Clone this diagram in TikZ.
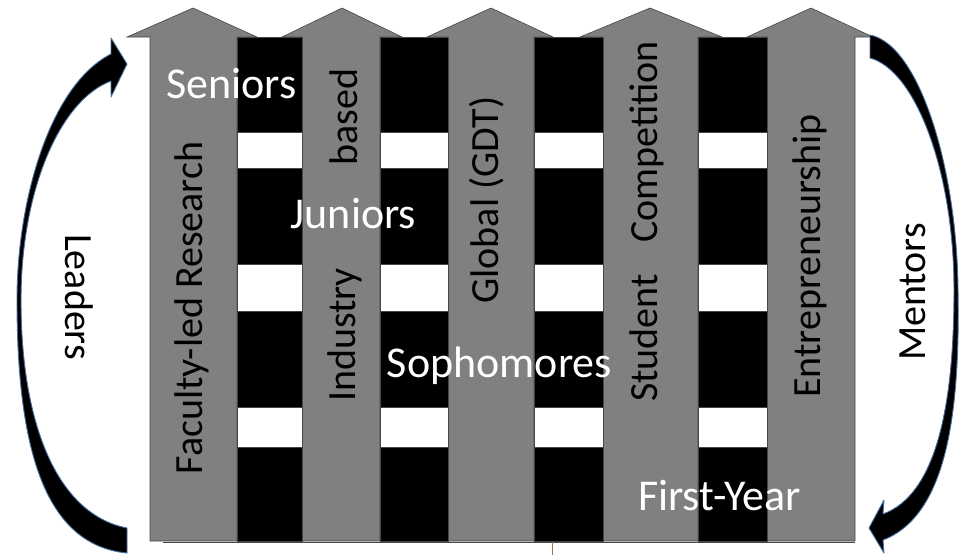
\documentclass[tikz,border=0pt]{standalone}
\usepackage{fontspec}
\setmainfont{Carlito}
\definecolor{armgray}{RGB}{128,128,128}
\definecolor{armedge}{RGB}{70,70,70}
\definecolor{glowblue}{RGB}{70,110,160}
\definecolor{tickbrown}{RGB}{160,120,60}
\newcommand{\pillarshape}[6]{% name, shaft left, shaft right, head left, head right, apex x
  \draw[pillar] (#2,541) -- (#2,37) -- (#4,37) -- (#6,8) -- (#5,37) -- (#3,37) -- (#3,541) -- cycle;
  \coordinate (#1) at (#6,8);}
\begin{document}
\begin{tikzpicture}[x=1pt,y=-1pt,
  pillar/.style={fill=armgray,draw=armedge,line width=0.6pt},
  barblk/.style={fill=black,draw=armedge,line width=0.6pt},
  gapwht/.style={fill=white,draw=armedge,line width=0.6pt},
  curved/.style={fill=black,draw=glowblue,line width=0.9pt,line join=round},
  level/.style={text=white,font=\fontsize{44}{50}\selectfont,anchor=base,inner sep=0pt},
  track/.style={text=black,font=\fontsize{40}{48}\selectfont,anchor=base,rotate=90,inner sep=0pt},
  roleup/.style={track},
  roledown/.style={text=black,font=\fontsize{40}{48}\selectfont,anchor=base,rotate=-90,inner sep=0pt}]
\useasboundingbox (0,0) rectangle (960,555);
% gray arrows
\pillarshape{p1}{150}{237}{127}{257}{193}
\pillarshape{p2}{302}{380}{282}{402}{342}
\pillarshape{p3}{448}{534}{427}{553}{491}
\pillarshape{p4}{603}{698}{580}{722}{650}
\pillarshape{p5}{767}{855}{747}{873}{811}
% black bars with white gaps
\foreach \l/\r in {237/302,380/448,534/603,698/767}{
  \draw[barblk] (\l,37) rectangle (\r,541);
  \foreach \a/\b in {132/168,264/311,407/447}
    \draw[gapwht] (\l,\a) rectangle (\r,\b);
}
\draw[armedge,line width=1pt] (163,542) -- (855,542);
\coordinate (tickA) at (552,542);
\coordinate (tickB) at (552,555);
\draw[tickbrown,line width=1pt] (tickA) -- (tickB);
% curved arrows
\draw[curved] (127,553) .. controls (45,545) and (17,450) .. (17,300)
  .. controls (17,200) and (50,85) .. (111,54) -- (111,38) -- (127,64) -- (111,97) -- (111,81)
  .. controls (60,100) and (21,190) .. (21,300)
  .. controls (21,430) and (60,515) .. (127,528) -- cycle;
\draw[curved] (870,35) .. controls (920,45) and (957,170) .. (958,290)
  .. controls (960,410) and (948,515) .. (883,540) -- (884,553) -- (869,528) -- (884,500) -- (883,514)
  .. controls (935,495) and (954,410) .. (954,290)
  .. controls (954,170) and (915,70) .. (870,58) -- cycle;
% level labels
\node[level] (sen) at (231.5,98) {Seniors};
\node[level] (jun) at (353.5,228) {Juniors};
\node[level] (sop) at (499.5,377) {Sophomores};
\node[level] (fy) at (719.5,510) {First-Year};
% track labels
\node[track] (fac) at (202,308) {Faculty-led Research};
\node[track] (bas) at (357,117) {based};
\node[track] (ind) at (355,335) {Industry};
\node[track] (glo) at (498,200) {Global (GDT)};
\node[track] (com) at (657,142) {Competition};
\node[track] (stu) at (657,338) {Student};
\node[track] (ent) at (820,256) {Entrepreneurship};
% roles
\node[roleup] (men) at (925,292) {Mentors};
\node[roledown] (lea) at (65,297) {Leaders};
\end{tikzpicture}
\end{document}
